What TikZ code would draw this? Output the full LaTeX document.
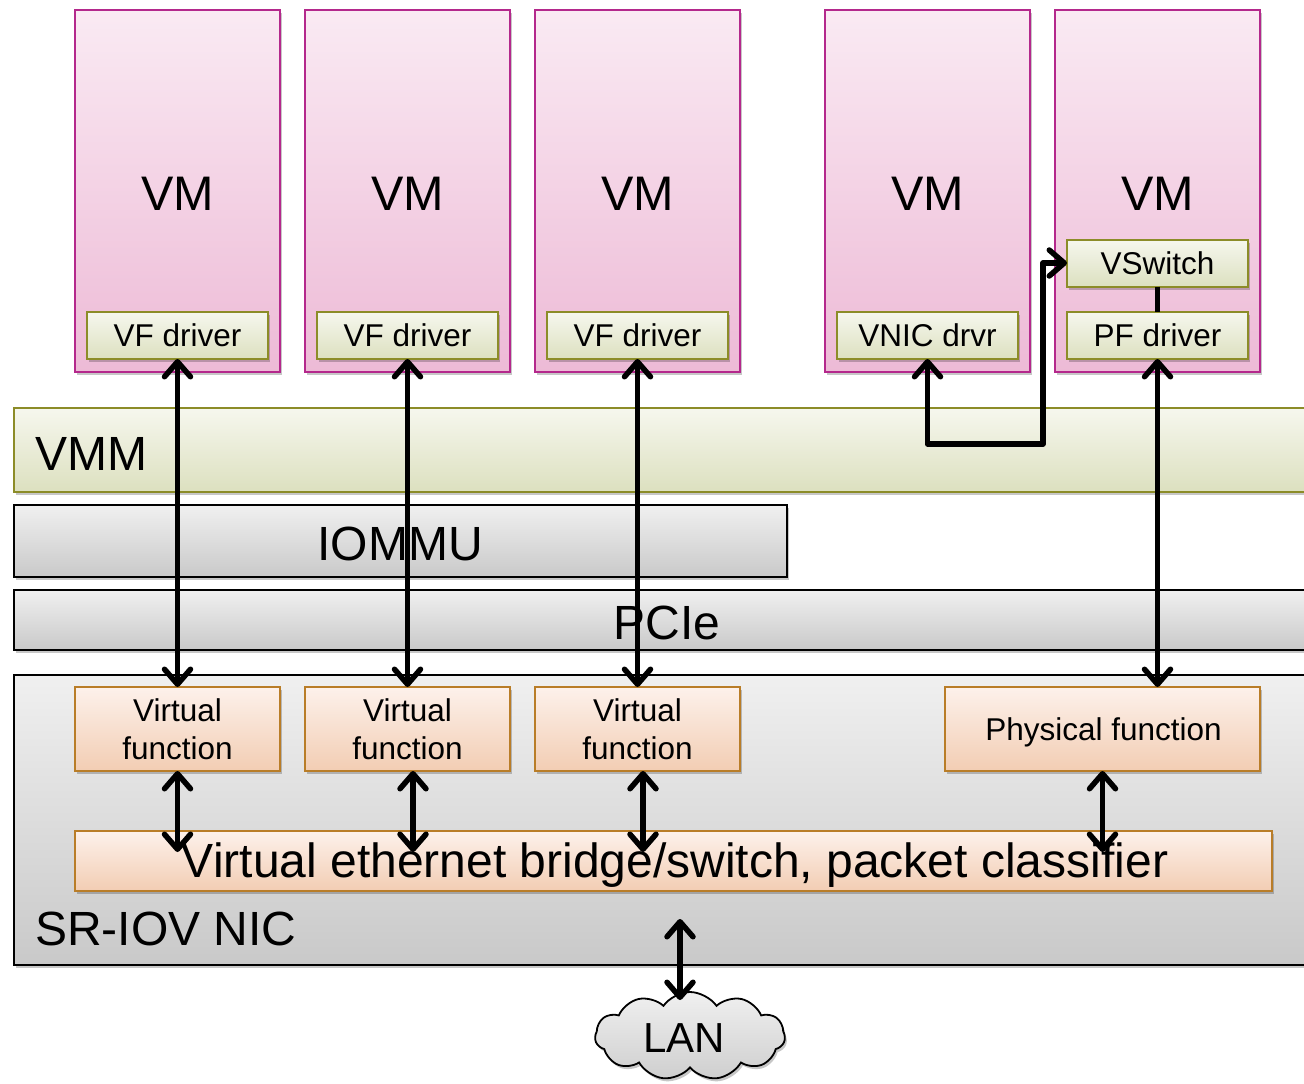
\documentclass[tikz,border=0pt]{standalone}
\usepackage{fontspec}
\setmainfont{Liberation Sans}
\usetikzlibrary{arrows.meta,shapes.symbols,shadows}
\definecolor{vmtop}{HTML}{FAEAF3}
\definecolor{vmbot}{HTML}{EDBAD6}
\definecolor{vmline}{RGB}{180,40,140}
\definecolor{grtop}{HTML}{F6F7EE}
\definecolor{grbot}{HTML}{DCE0BF}
\definecolor{grline}{RGB}{140,140,40}
\definecolor{gytop}{HTML}{F0F0F0}
\definecolor{gybot}{HTML}{C9C9C9}
\definecolor{pctop}{HTML}{FDF1EB}
\definecolor{pcbot}{HTML}{F2CDB3}
\definecolor{pcline}{RGB}{185,125,40}
\tikzset{
  shd/.style={drop shadow={shadow xshift=2pt,shadow yshift=-3pt,opacity=.22,fill=black}},
  vmbox/.style={shd,draw=vmline,line width=1.5pt,top color=vmtop,bottom color=vmbot,
    minimum width=205,minimum height=362,inner sep=0,outer sep=0},
  vmtxt/.style={inner sep=0,font=\fontsize{48.5}{52}\selectfont},
  drvbox/.style={shd,draw=grline,line width=2pt,top color=grtop,bottom color=grbot,
    minimum width=181,minimum height=47,inner sep=0,outer sep=0,font=\fontsize{31.5}{36}\selectfont},
  band/.style={shd,draw=black,line width=1.8pt,top color=gytop,bottom color=gybot},
  gband/.style={shd,draw=grline,line width=1.5pt,top color=grtop,bottom color=grbot},
  fnbox/.style={shd,draw=pcline,line width=1.8pt,top color=pctop,bottom color=pcbot,
    minimum height=84,inner sep=0,outer sep=0},
  fntxt/.style={inner sep=0,align=center,font=\fontsize{31.5}{38}\selectfont},
  bigtxt/.style={inner sep=0,font=\fontsize{48}{52}\selectfont},
  dar/.style={line width=5.5pt,line cap=round,line join=round,
    {Straight Barb[length=15pt,width=26pt,round]}-{Straight Barb[length=15pt,width=26pt,round]}},
}
\begin{document}
\begin{tikzpicture}[x=1pt,y=-1pt]
\clip (0,0) rectangle (1304,1084);
\fill[white] (0,0) rectangle (1304,1084);
% bands
\path[gband] (14,408) rectangle (1330,492);
\node[bigtxt,anchor=west] (vmmt) at (35,454) {VMM};
\path[band] (14,505) rectangle (787,577);
\node[bigtxt] (iommut) at (400,544) {IOMMU};
\path[band] (14,590) rectangle (1330,650);
\node[bigtxt] (pciet) at (667,623) {PCIe};
\path[band] (14,675) rectangle (1330,965);
\node[bigtxt,anchor=west] (nict) at (35,929) {SR-IOV NIC};
% VMs
\node[vmbox] (vm1) at (177.5,191) {};
\node[vmbox] (vm2) at (407.5,191) {};
\node[vmbox] (vm3) at (637.5,191) {};
\node[vmbox] (vm4) at (927.5,191) {};
\node[vmbox] (vm5) at (1157.5,191) {};
\node[vmtxt] (vmt1) at (177.5,194) {VM};
\node[vmtxt] (vmt2) at (407.5,194) {VM};
\node[vmtxt] (vmt3) at (637.5,194) {VM};
\node[vmtxt] (vmt4) at (927.5,194) {VM};
\node[vmtxt] (vmt5) at (1157.5,194) {VM};
\node[drvbox] (vf1) at (177.5,335.5) {VF driver};
\node[drvbox] (vf2) at (407.5,335.5) {VF driver};
\node[drvbox] (vf3) at (637.5,335.5) {VF driver};
\node[drvbox] (vnic) at (927.5,335.5) {VNIC drvr};
\node[drvbox] (pf) at (1157.5,335.5) {PF driver};
\node[drvbox] (vsw) at (1157.5,263) {VSwitch};
% NIC functions
\node[fnbox,minimum width=205] (fn1) at (177.5,729) {};
\node[fnbox,minimum width=205] (fn2) at (407.5,729) {};
\node[fnbox,minimum width=205] (fn3) at (637.5,729) {};
\node[fnbox,minimum width=315] (pfn) at (1102.5,729) {};
\node[fnbox,minimum width=1197,minimum height=60] (br) at (673.5,861) {};
\node[fntxt] (fnt1) at (177.5,729.5) {Virtual\\function};
\node[fntxt] (fnt2) at (407.5,729.5) {Virtual\\function};
\node[fntxt] (fnt3) at (637.5,729.5) {Virtual\\function};
\node[fntxt] (pfnt) at (1103.5,732) {Physical function};
\node[bigtxt] (brt) at (675,865) {Virtual ethernet bridge/switch, packet classifier};
% LAN
\node[cloud,cloud puffs=11,cloud puff arc=110,aspect=2.2,draw=black,line width=1.8pt,
  top color=gytop,bottom color=gybot!90!white,minimum width=190,minimum height=88,inner sep=0,shd] (lan) at (690,1036) {};
\node[inner sep=0,font=\fontsize{42}{46}\selectfont] (lant) at (684,1038) {LAN};
% connectors
\coordinate (bt) at (0,852);
\coordinate (c1) at (1043,444);
\coordinate (la) at (680,919);
\coordinate (lb) at (680,1000);
\draw[dar] (vf1.south) -- (fn1.north);
\draw[dar] (vf2.south) -- (fn2.north);
\draw[dar] (vf3.south) -- (fn3.north);
\draw[dar] (pf.south) -- (pf.south |- pfn.north);
\draw[dar] (vnic.south) |- (c1) |- (vsw.west);
\draw[line width=5.5pt] (vsw.south) -- (pf.north);
\draw[dar] (fn1.south) -- (fn1.south |- bt);
\draw[dar] ([xshift=5.5]fn2.south) -- ([xshift=5.5]fn2.south |- bt);
\draw[dar] ([xshift=5.5]fn3.south) -- ([xshift=5.5]fn3.south |- bt);
\draw[dar] (pfn.south) -- (pfn.south |- bt);
\draw[dar] (la) -- (lb);
\end{tikzpicture}
\end{document}
